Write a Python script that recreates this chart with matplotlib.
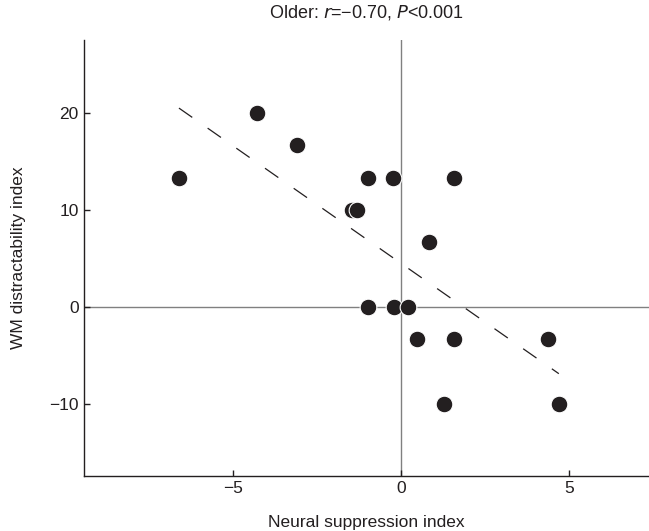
import numpy as np
import matplotlib
matplotlib.use('Agg')
import matplotlib.pyplot as plt

plt.rcParams['font.family'] = ['Liberation Sans', 'DejaVu Sans']

# neural suppression index vs WM distractability index (older adults)
suppression = [-6.60, -4.29, -3.10, -0.99, -0.25, 1.57, -1.46, -1.32, 0.84,
               -0.99, -0.20, 0.20, 0.47, 1.57, 1.29, 4.36, 4.69]
distract = [13.33, 20.0, 16.67, 13.33, 13.33, 13.33, 10.0, 10.0, 6.67,
            0.0, 0.0, 0.0, -3.33, -3.33, -10.0, -3.33, -10.0]
x_ticks = [-5, 0, 5]
y_ticks = [-10, 0, 10, 20]
x_ticklabels = ['\u22125', '0', '5']
y_ticklabels = ['\u221210', '0', '10', '20']

fig = plt.figure(figsize=(6.49, 5.31), dpi=100)
ax = fig.add_axes([0.129, 0.1036, 0.871, 0.8211])

ax.axhline(0, color='#808080', lw=1.0, zorder=1)
ax.axvline(0, color='#808080', lw=1.0, zorder=1)

# least squares fit line
slope, icpt = np.polyfit(suppression, distract, 1)
xl = np.array([min(suppression), max(suppression)])
ax.plot(xl, slope * xl + icpt, color='#231f20', lw=0.9, dashes=(13, 15), zorder=2)

ax.plot(suppression, distract, 'o', color='#231f20', ms=12,
        mec='white', mew=0.8, zorder=3)

ax.set_xlim(-9.43, 7.37)
ax.set_ylim(-17.4, 27.5)
ax.set_xticks(x_ticks)
ax.set_xticklabels(x_ticklabels)
ax.set_yticks(y_ticks)
ax.set_yticklabels(y_ticklabels)
ax.tick_params(direction='in', length=4, width=1, labelsize=12.5, colors='#231f20')

for s in ['top', 'right']:
    ax.spines[s].set_visible(False)
for s in ['left', 'bottom']:
    ax.spines[s].set_color('#231f20')
    ax.spines[s].set_linewidth(1.0)

ax.set_xlabel('Neural suppression index', fontsize=12.5, color='#231f20', labelpad=14)
ax.set_ylabel('WM distractability index', fontsize=12.5, color='#231f20', labelpad=17)
ax.set_title('Older: $\\mathit{r}$=\u22120.70, $\\mathit{P}$<0.001', fontsize=13,
             color='#231f20', pad=16)

fig.savefig('out.png', dpi=100)
